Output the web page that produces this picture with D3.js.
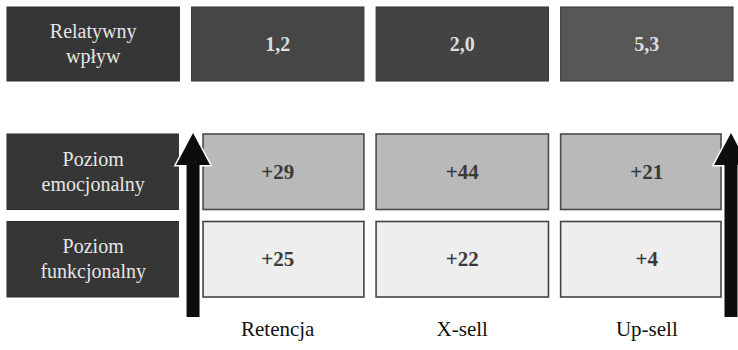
<!DOCTYPE html>
<html>
<head>
<meta charset="utf-8">
<script src="https://cdn.jsdelivr.net/npm/d3@7"></script>
<style>
  html, body { margin: 0; padding: 0; background: #fff; }
  svg { display: block; }
</style>
</head>
<body>
<div id="chart"></div>
<script>
// Columns of the matrix and the values shown in each row
const columns = ["Retencja", "X-sell", "Up-sell"];
const impactLabel = ["Relatywny", "wpływ"];
const impactValues = [1.2, 2.0, 5.3];
const rowLabels = [["Poziom", "emocjonalny"], ["Poziom", "funkcjonalny"]];
const emotionalValues = [29, 44, 21];
const functionalValues = [25, 22, 4];

const W = 738, H = 350;
const FONT = "'Liberation Serif', 'DejaVu Serif', 'Noto Serif', 'Noto Serif CJK SC', FreeSerif, Tinos, Georgia, 'Times New Roman', serif";
const svg = d3.select("#chart").append("svg")
  .attr("width", W).attr("height", H)
  .attr("font-family", FONT)
  .style("font-family", FONT);

// Horizontal layout: one label column followed by the three category columns
const x = d3.scaleBand()
  .domain(["__label", ...columns])
  .range([7, 733])
  .paddingInner(0.066)
  .paddingOuter(0);
const bw = x.bandwidth();

// Vertical layout: impact row on top, then the two level rows
const yTop = { y0: 7, y1: 81 };
const y = d3.scaleBand()
  .domain(["emo", "fun"])
  .range([134, 297])
  .paddingInner(0.137);
const rh = y.bandwidth();

const pl = d3.formatLocale({ decimal: ",", thousands: " ", grouping: [3], currency: ["", " zł"] });
const fmtImpact = pl.format(".1f");
const fmtDelta = d3.format("+d");

// Arrow geometry (placed on the outer edges of the category columns)
const arrowLeftX = x(columns[0]) + 1.5;
const arrowRightX = x(columns[columns.length - 1]) + bw - 2;
const arrowClear = 10;

// ---- top row: relative impact ----
const gTop = svg.append("g");
gTop.append("rect")
  .attr("x", x("__label")).attr("y", yTop.y0)
  .attr("width", bw).attr("height", yTop.y1 - yTop.y0)
  .attr("fill", "#363636").attr("stroke", "#2a2a2a").attr("stroke-width", 1);
gTop.append("text")
  .attr("x", x("__label") + bw / 2).attr("y", 38)
  .attr("text-anchor", "middle").attr("fill", "#e6e6e6")
  .attr("font-size", 20)
  .selectAll("tspan").data(impactLabel).join("tspan")
  .attr("x", x("__label") + bw / 2)
  .attr("dy", (d, i) => i === 0 ? 0 : 25)
  .text(d => d);

const topFills = ["#464646", "#434343", "#575757"];
columns.forEach((c, i) => {
  gTop.append("rect")
    .attr("x", x(c)).attr("y", yTop.y0)
    .attr("width", bw).attr("height", yTop.y1 - yTop.y0)
    .attr("fill", topFills[i]).attr("stroke", "#333").attr("stroke-width", 1);
  gTop.append("text")
    .attr("x", x(c) + bw / 2).attr("y", (yTop.y0 + yTop.y1) / 2 + 7)
    .attr("text-anchor", "middle").attr("fill", "#dedede")
    .attr("font-size", 20).attr("font-weight", "bold")
    .text(fmtImpact(impactValues[i]));
});

// ---- level rows ----
const rows = [
  { key: "emo", label: rowLabels[0], values: emotionalValues, fill: "#b9b9b9", stroke: "#4a4a4a" },
  { key: "fun", label: rowLabels[1], values: functionalValues, fill: "#eeeeee", stroke: "#444" }
];

rows.forEach(r => {
  const g = svg.append("g");
  const ry = y(r.key);
  g.append("rect")
    .attr("x", x("__label")).attr("y", ry)
    .attr("width", bw - 1).attr("height", rh)
    .attr("fill", "#363636").attr("stroke", "#2a2a2a").attr("stroke-width", 1);
  g.append("text")
    .attr("x", x("__label") + bw / 2).attr("y", ry + rh / 2 - 6)
    .attr("text-anchor", "middle").attr("fill", "#e6e6e6")
    .attr("font-size", 20)
    .selectAll("tspan").data(r.label).join("tspan")
    .attr("x", x("__label") + bw / 2)
    .attr("dy", (d, i) => i === 0 ? 0 : 25)
    .text(d => d);

  columns.forEach((c, i) => {
    let x0 = x(c), x1 = x(c) + bw;
    if (i === 0) x0 = arrowLeftX + arrowClear;
    if (i === columns.length - 1) x1 = arrowRightX - arrowClear;
    g.append("rect")
      .attr("x", x0).attr("y", ry)
      .attr("width", x1 - x0).attr("height", rh)
      .attr("fill", r.fill).attr("stroke", r.stroke).attr("stroke-width", 1.6);
    g.append("text")
      .attr("x", x(c) + bw / 2).attr("y", ry + rh / 2 + 7)
      .attr("text-anchor", "middle").attr("fill", "#3a3a3a")
      .attr("font-size", 21).attr("font-weight", "bold")
      .text(fmtDelta(r.values[i]));
  });
});

// ---- upward arrows ----
const arrowTop = y("emo") - 1;
const arrowBottom = 317;
const shaftHalf = 6.5, headHalf = 17, headLen = 32;
function arrowPath(cx) {
  const p = d3.path();
  p.moveTo(cx, arrowTop);
  p.lineTo(cx + headHalf, arrowTop + headLen);
  p.lineTo(cx + shaftHalf, arrowTop + headLen);
  p.lineTo(cx + shaftHalf, arrowBottom);
  p.lineTo(cx - shaftHalf, arrowBottom);
  p.lineTo(cx - shaftHalf, arrowTop + headLen);
  p.lineTo(cx - headHalf, arrowTop + headLen);
  p.closePath();
  return p.toString();
}
svg.append("g").selectAll("path")
  .data([arrowLeftX, arrowRightX]).join("path")
  .attr("d", d => arrowPath(d))
  .attr("fill", "#0d0d0d")
  .attr("stroke", "#fff").attr("stroke-width", 3)
  .attr("stroke-linejoin", "miter")
  .attr("paint-order", "stroke");

// ---- column labels ----
svg.append("g").selectAll("text")
  .data(columns).join("text")
  .attr("x", d => x(d) + bw / 2).attr("y", 336)
  .attr("text-anchor", "middle").attr("fill", "#111")
  .attr("font-size", 21)
  .text(d => d);
</script>
</body>
</html>
